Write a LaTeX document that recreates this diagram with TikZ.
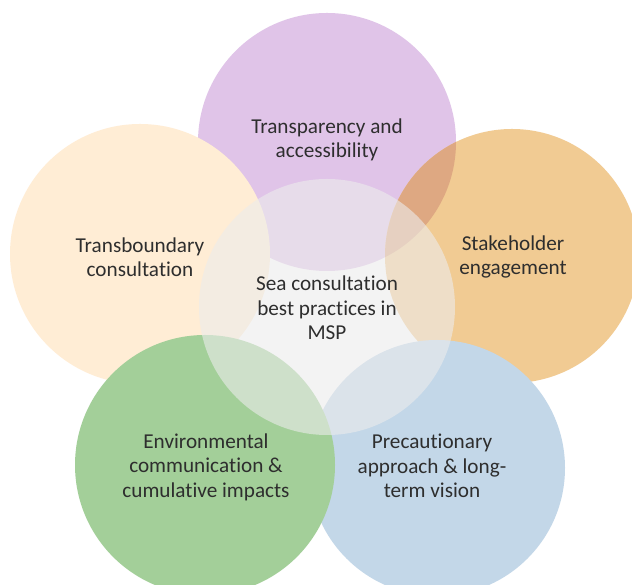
\documentclass[tikz,border=0pt]{standalone}
\usepackage{fontspec}
\setmainfont[RawFeature={-liga;-dlig;-clig;-calt}]{Carlito}
\definecolor{cpurple}{HTML}{E0C4E8}
\definecolor{corange}{HTML}{F1CB93}
\definecolor{cover}{HTML}{DEA882}
\definecolor{ccream}{HTML}{FFEDD5}
\definecolor{cgreen}{HTML}{A3CF99}
\definecolor{cblue}{HTML}{C3D7E8}
\definecolor{ccenter}{HTML}{ECECEC}
\definecolor{ctext}{HTML}{2E2E2E}
\tikzset{
  bubble/.style={circle, inner sep=0pt, draw=none},
  lbl/.style={align=center, text=ctext, font=\fontsize{21.2}{24.5}\selectfont, inner sep=0pt}
}
\begin{document}
\begin{tikzpicture}[x=1pt,y=1pt]
\useasboundingbox (0,0) rectangle (632,585);
\clip (0,0) rectangle (632,585);
\fill[white] (0,0) rectangle (632,585);
% circles (y = 585 - image y)
\node[bubble, fill=cpurple, minimum size=258pt] (purple) at (327,443) {};
\node[bubble, fill=corange, minimum size=254pt] (orange) at (512,329) {};
\begin{scope}
  \clip (purple.center) circle (129pt);
  \fill[cover] (orange.center) circle (127pt);
\end{scope}
\node[bubble, fill=ccream, minimum size=260pt] (cream) at (140,331) {};
\node[bubble, fill=cblue, minimum size=256pt] (blue) at (437,117) {};
\node[bubble, fill=cgreen, minimum size=260pt] (green) at (205,120) {};
\node[bubble, fill=ccenter, fill opacity=0.6, minimum size=256pt] (center) at (327,278) {};
% labels
\node[lbl] (tpurple) at (327,445) {Transparency and\\accessibility};
\node[lbl] (tcream) at (140,328) {Transboundary\\consulta\kern0pt tion};
\node[lbl] (torange) at (513,328) {Stakeholder\\engagement};
\node[lbl] (tcenter) at (327,277) {Sea consulta\kern0pt tion\\best practices in\\MSP};
\node[lbl] (tgreen) at (206,118) {Environmental\\communica\kern0pt tion \&\\cumulative impacts};
\node[lbl] (tblue) at (432,119) {Precau\kern0pt tionary\\approach \& long-\\term vision};
\end{tikzpicture}
\end{document}
